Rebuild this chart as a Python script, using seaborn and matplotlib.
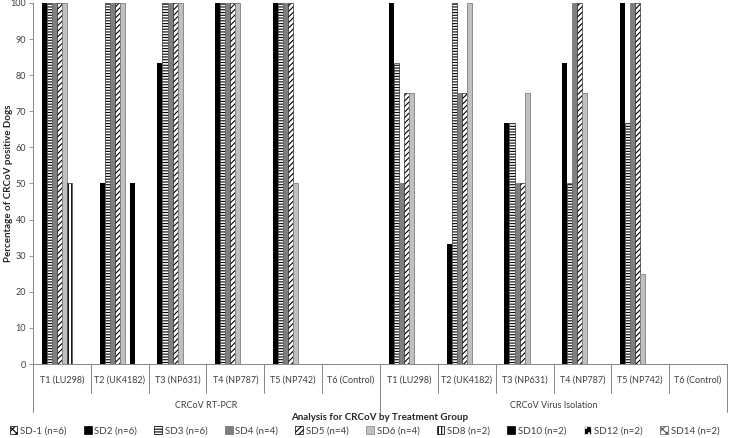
import matplotlib
matplotlib.use("Agg")
import matplotlib.pyplot as plt
from matplotlib.patches import Patch
import pandas as pd
import seaborn as sns

assays = ["CRCoV RT-PCR", "CRCoV Virus Isolation"]
treatments = ["T1 (LU298)", "T2 (UK4182)", "T3 (NP631)", "T4 (NP787)", "T5 (NP742)", "T6 (Control)"]
series = ["SD-1 (n=6)", "SD2 (n=6)", "SD3 (n=6)", "SD4 (n=4)", "SD5 (n=4)",
          "SD6 (n=4)", "SD8 (n=2)", "SD10 (n=2)", "SD12 (n=2)", "SD14 (n=2)"]

# RT-PCR groups T1..T6 followed by virus isolation groups T1..T6
sd_1 = [0, 0, 0, 0, 0, 0, 0, 0, 0, 0, 0, 0]
sd2 = [100, 50, 83.3, 100, 100, 0, 100, 33.3, 66.7, 83.3, 100, 0]
sd3 = [100, 100, 100, 100, 100, 0, 83.3, 100, 66.7, 50, 66.7, 0]
sd4 = [100, 100, 100, 100, 100, 0, 50, 75, 50, 100, 100, 0]
sd5 = [100, 100, 100, 100, 100, 0, 75, 75, 50, 100, 100, 0]
sd6 = [100, 100, 100, 100, 50, 0, 75, 100, 75, 75, 25, 0]
sd8 = [50, 0, 0, 0, 0, 0, 0, 0, 0, 0, 0, 0]
sd10 = [0, 50, 0, 0, 0, 0, 0, 0, 0, 0, 0, 0]
sd12 = [0, 0, 0, 0, 0, 0, 0, 0, 0, 0, 0, 0]
sd14 = [0, 0, 0, 0, 0, 0, 0, 0, 0, 0, 0, 0]
values = [sd_1, sd2, sd3, sd4, sd5, sd6, sd8, sd10, sd12, sd14]

# (face, edge/hatch colour, hatch, linewidth)
styles = [
    ("white", "black", "xxxx", 0.0),
    ("black", "black", None, 0.0),
    ("white", "black", "------", 0.4),
    ("#7f7f7f", "#6a6a6a", None, 0.5),
    ("white", "black", "//////", 0.4),
    ("#c0c0c0", "#7f7f7f", None, 0.6),
    ("white", "black", "|||||", 0.4),
    ("black", "black", None, 0.0),
    ("black", "white", "...", 0.0),
    ("white", "#555555", "xxxx", 0.4),
]

groups = [f"{a}|{t}" for a in assays for t in treatments]
rows = []
for s, vals in zip(series, values):
    for g, v in zip(groups, vals):
        rows.append({"group": g, "series": s, "pct": v})
df = pd.DataFrame(rows)

sns.set_style("white")
plt.rcParams["font.family"] = ["Lato", "DejaVu Sans"]
plt.rcParams["hatch.linewidth"] = 0.8

fig = plt.figure(figsize=(7.29, 4.38), dpi=100)
ax = fig.add_axes([33 / 729, 1 - 364 / 438, 694 / 729, 361 / 438])

sns.barplot(data=df, x="group", y="pct", hue="series", order=groups, hue_order=series,
            palette=["white"] * len(series), width=0.87, saturation=1, errorbar=None,
            legend=False, ax=ax)

for cont, (fc, ec, hatch, lw) in zip(ax.containers, styles):
    for bar in cont:
        bar.set_facecolor(fc)
        bar.set_edgecolor(ec)
        bar.set_linewidth(lw if bar.get_height() > 0 else 0)
        if hatch:
            bar.set_hatch(hatch)

ax.set_xlim(-0.5, 11.5)
ax.set_ylim(0, 100)
ax.set_yticks(range(0, 101, 10))
ax.set_xticks([])
ax.set_xlabel("")
ax.set_ylabel("Percentage of CRCoV positive Dogs", fontsize=7, fontweight="bold")
ax.yaxis.set_label_coords(-20 / 694, 0.5)
ax.tick_params(axis="y", length=3, width=0.6, color="#868686", labelsize=6.5,
               labelcolor="#404040", pad=2, left=True)
for side in ["top", "right"]:
    ax.spines[side].set_visible(False)
for side in ["left", "bottom"]:
    ax.spines[side].set_color("#868686")
    ax.spines[side].set_linewidth(0.7)

trans = ax.get_xaxis_transform()
short = -(393 - 364) / 361
tall = -(412 - 364) / 361
for i in range(13):
    x = i - 0.5
    y1 = tall if i in (0, 6, 12) else short
    ax.plot([x, x], [0, y1], color="#868686", lw=0.7, transform=trans, clip_on=False)

for i, g in enumerate(groups):
    ax.text(i, -(380 - 364) / 361, g.split("|")[1], transform=trans, ha="center",
            va="center", fontsize=6.5, color="#404040")
for j, a in enumerate(assays):
    ax.text(2.5 + 6 * j, -(405 - 364) / 361, a, transform=trans, ha="center",
            va="center", fontsize=6.5, color="#404040")

fig.text(380 / 729, 1 - 417 / 438, "Analysis for CRCoV by Treatment Group",
         ha="center", va="center", fontsize=7, fontweight="bold")

handles = [Patch(facecolor=fc, edgecolor=ec, hatch=h, linewidth=0.5) for fc, ec, h, lw in styles]
fig.legend(handles, series, loc="center", bbox_to_anchor=(0.5, 1 - 431 / 438), ncol=10,
           frameon=False, fontsize=7, handlelength=0.8, handleheight=0.8,
           handletextpad=0.3, columnspacing=1.75, labelcolor="#404040")

fig.savefig("out.png", dpi=100)
plt.close(fig)
